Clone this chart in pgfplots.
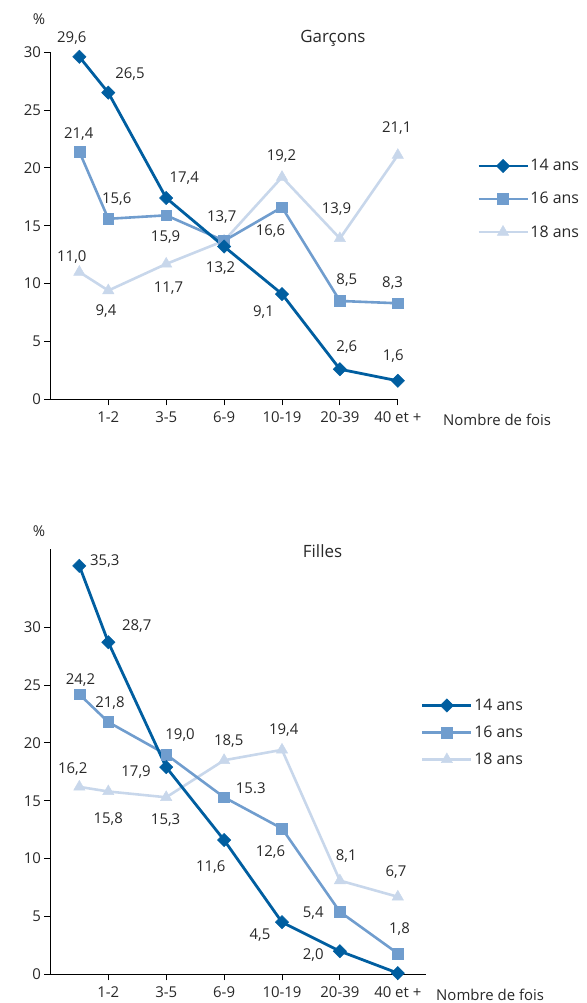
\documentclass[border=0pt]{standalone}
\usepackage{pgfplots}
\pgfplotsset{compat=1.18}
\usepackage{fontspec}
\setmainfont{Open Sans}
\definecolor{cA}{RGB}{0,94,160}
\definecolor{cB}{RGB}{112,157,206}
\definecolor{cC}{RGB}{200,215,235}
\definecolor{txt}{RGB}{40,40,40}
\tikzset{
  lbl/.style={font=\fontsize{15}{17}\selectfont, text=txt, inner sep=0pt},
  big/.style={font=\fontsize{16}{18}\selectfont, text=txt, inner sep=0pt},
}
\pgfplotsset{
  chartbase/.style={
    x=57.9bp, y=11.57bp,
    xmin=0, ymin=0,
    axis lines=left,
    axis line style={-, line width=1.1bp, black},
    clip=false,
    xtick={1,2,3,4,5,6},
    xticklabels={1-2,3-5,6-9,10-19,20-39,40 et +},
    ytick={0,5,10,15,20,25,30},
    tick align=outside,
    major tick length=6bp,
    tick style={line width=1bp, black},
    /pgf/number format/assume math mode=true,
    tick label style={font=\fontsize{15}{17}\selectfont, text=txt},
    xticklabel style={yshift=-3bp},
    legend cell align=left,
    legend style={draw=none, fill=none, inner sep=0pt, outer sep=0pt,
      font=\fontsize{16}{18}\selectfont, text=txt,
      nodes={inner sep=1.5bp}},
    legend image code/.code={\draw[mark repeat=2,mark phase=2,##1] plot coordinates {(0bp,0bp)(24.5bp,0bp)(49bp,0bp)};},
  },
  s14/.style={color=cA, line width=2.8bp, mark=square*, mark size=4.7bp, mark options={rotate=45, solid, line width=0.5bp}},
  s16/.style={color=cB, line width=2.6bp, mark=square*, mark size=5.4bp, mark options={solid, line width=0.5bp}},
  s18/.style={color=cC, line width=2.6bp, mark=triangle*, mark size=6.5bp, mark options={solid, line width=0.5bp}},
}
\pgfplotstableread{
x   a    b    c
0.5 29.6 21.4 11.0
1   26.5 15.6 9.4
2   17.4 15.9 11.7
3   13.2 13.7 13.7
4   9.1  16.6 19.2
5   2.6  8.5  13.9
6   1.6  8.3  21.1
}\garcons
\pgfplotstableread{
x   a    b    c
0.5 35.3 24.2 16.2
1   28.7 21.8 15.8
2   17.9 19.0 15.3
3   11.6 15.3 18.5
4   4.5  12.6 19.4
5   2.0  5.4  8.1
6   0.1  1.8  6.7
}\filles
\begin{document}
\begin{tikzpicture}
\path[use as bounding box] (-50.4bp,-603.7bp) rectangle (536.6bp,399.3bp);
% ---------- Garcons ----------
\begin{axis}[chartbase, at={(0,0)}, anchor=south west, xmax=6, ymax=30,
  legend style={at={(axis cs:7.37,17.31)}, anchor=west, row sep=17bp}]
\addlegendimage{s14}
\addlegendimage{s16}
\addlegendimage{s18}
\addplot[s18, forget plot] table[x=x,y=c] {\garcons};
\addplot[s16, forget plot] table[x=x,y=b] {\garcons};
\addplot[s14, forget plot] table[x=x,y=a] {\garcons};
\legend{14 ans,16 ans,18 ans}
\node[lbl] at (axis cs:0.37,31.2) {29,6};
\node[lbl] at (axis cs:1.375,28.1) {26,5};
\node[lbl] at (axis cs:2.31,19.1) {17,4};
\node[lbl] at (axis cs:2.94,11.32) {13,2};
\node[lbl] at (axis cs:3.68,7.52) {9,1};
\node[lbl] at (axis cs:5.12,4.55) {2,6};
\node[lbl] at (axis cs:5.92,3.74) {1,6};
\node[lbl] at (axis cs:0.49,22.9) {21,4};
\node[lbl] at (axis cs:1.145,17.29) {15,6};
\node[lbl] at (axis cs:1.99,14.05) {15,9};
\node[lbl] at (axis cs:2.96,15.73) {13,7};
\node[lbl] at (axis cs:3.80,14.57) {16,6};
\node[lbl] at (axis cs:5.12,10.31) {8,5};
\node[lbl] at (axis cs:5.91,10.08) {8,3};
\node[lbl] at (axis cs:0.37,12.27) {11,0};
\node[lbl] at (axis cs:0.96,7.66) {9,4};
\node[lbl] at (axis cs:2.04,9.59) {11,7};
\node[lbl] at (axis cs:3.99,21.05) {19,2};
\node[lbl] at (axis cs:4.94,16.42) {13,9};
\node[lbl] at (axis cs:5.98,23.42) {21,1};
\node[lbl] at (axis cs:-0.197,32.87) {\%};
\node[big, font=\fontsize{17}{19}\selectfont] at (axis cs:4.88,31.23) {Garçons};
\node[lbl, anchor=west] at (axis cs:6.78,-1.78) {Nombre de fois};
\end{axis}
% ---------- Filles ----------
\begin{axis}[chartbase, at={(0,-575bp)}, anchor=south west, xmax=6.49, ymax=36.8,
  legend style={at={(axis cs:6.40,20.9)}, anchor=west, row sep=11bp}]
\addlegendimage{s14}
\addlegendimage{s16}
\addlegendimage{s18}
\addplot[s18, forget plot] table[x=x,y=c] {\filles};
\addplot[s16, forget plot] table[x=x,y=b] {\filles};
\addplot[s14, forget plot] table[x=x,y=a] {\filles};
\legend{14 ans,16 ans,18 ans}
\node[lbl] at (axis cs:0.94,35.75) {35,3};
\node[lbl] at (axis cs:1.49,30.14) {28,7};
\node[lbl] at (axis cs:1.48,17.48) {17,9};
\node[lbl] at (axis cs:2.77,9.28) {11,6};
\node[lbl] at (axis cs:3.62,3.39) {4,5};
\node[lbl] at (axis cs:4.54,1.67) {2,0};
\node[lbl] at (axis cs:0.52,25.39) {24,2};
\node[lbl] at (axis cs:1.03,23.43) {21,8};
\node[lbl] at (axis cs:2.24,20.65) {19,0};
\node[lbl] at (axis cs:3.46,16.05) {15.3};
\node[lbl] at (axis cs:3.80,10.58) {12,6};
\node[lbl] at (axis cs:4.54,5.32) {5,4};
\node[lbl] at (axis cs:6.03,3.88) {1,8};
\node[lbl] at (axis cs:0.385,17.77) {16,2};
\node[lbl] at (axis cs:1.0,13.46) {15,8};
\node[lbl] at (axis cs:1.99,13.37) {15,3};
\node[lbl] at (axis cs:3.08,20.16) {18,5};
\node[lbl] at (axis cs:4.03,21.08) {19,4};
\node[lbl] at (axis cs:5.11,10.23) {8,1};
\node[lbl] at (axis cs:5.97,8.8) {6,7};
\node[lbl] at (axis cs:-0.197,38.27) {\%};
\node[big, font=\fontsize{17}{19}\selectfont] at (axis cs:4.70,36.61) {Filles};
\node[lbl, anchor=west] at (axis cs:6.66,-1.79) {Nombre de fois};
\end{axis}
\end{tikzpicture}
\end{document}
